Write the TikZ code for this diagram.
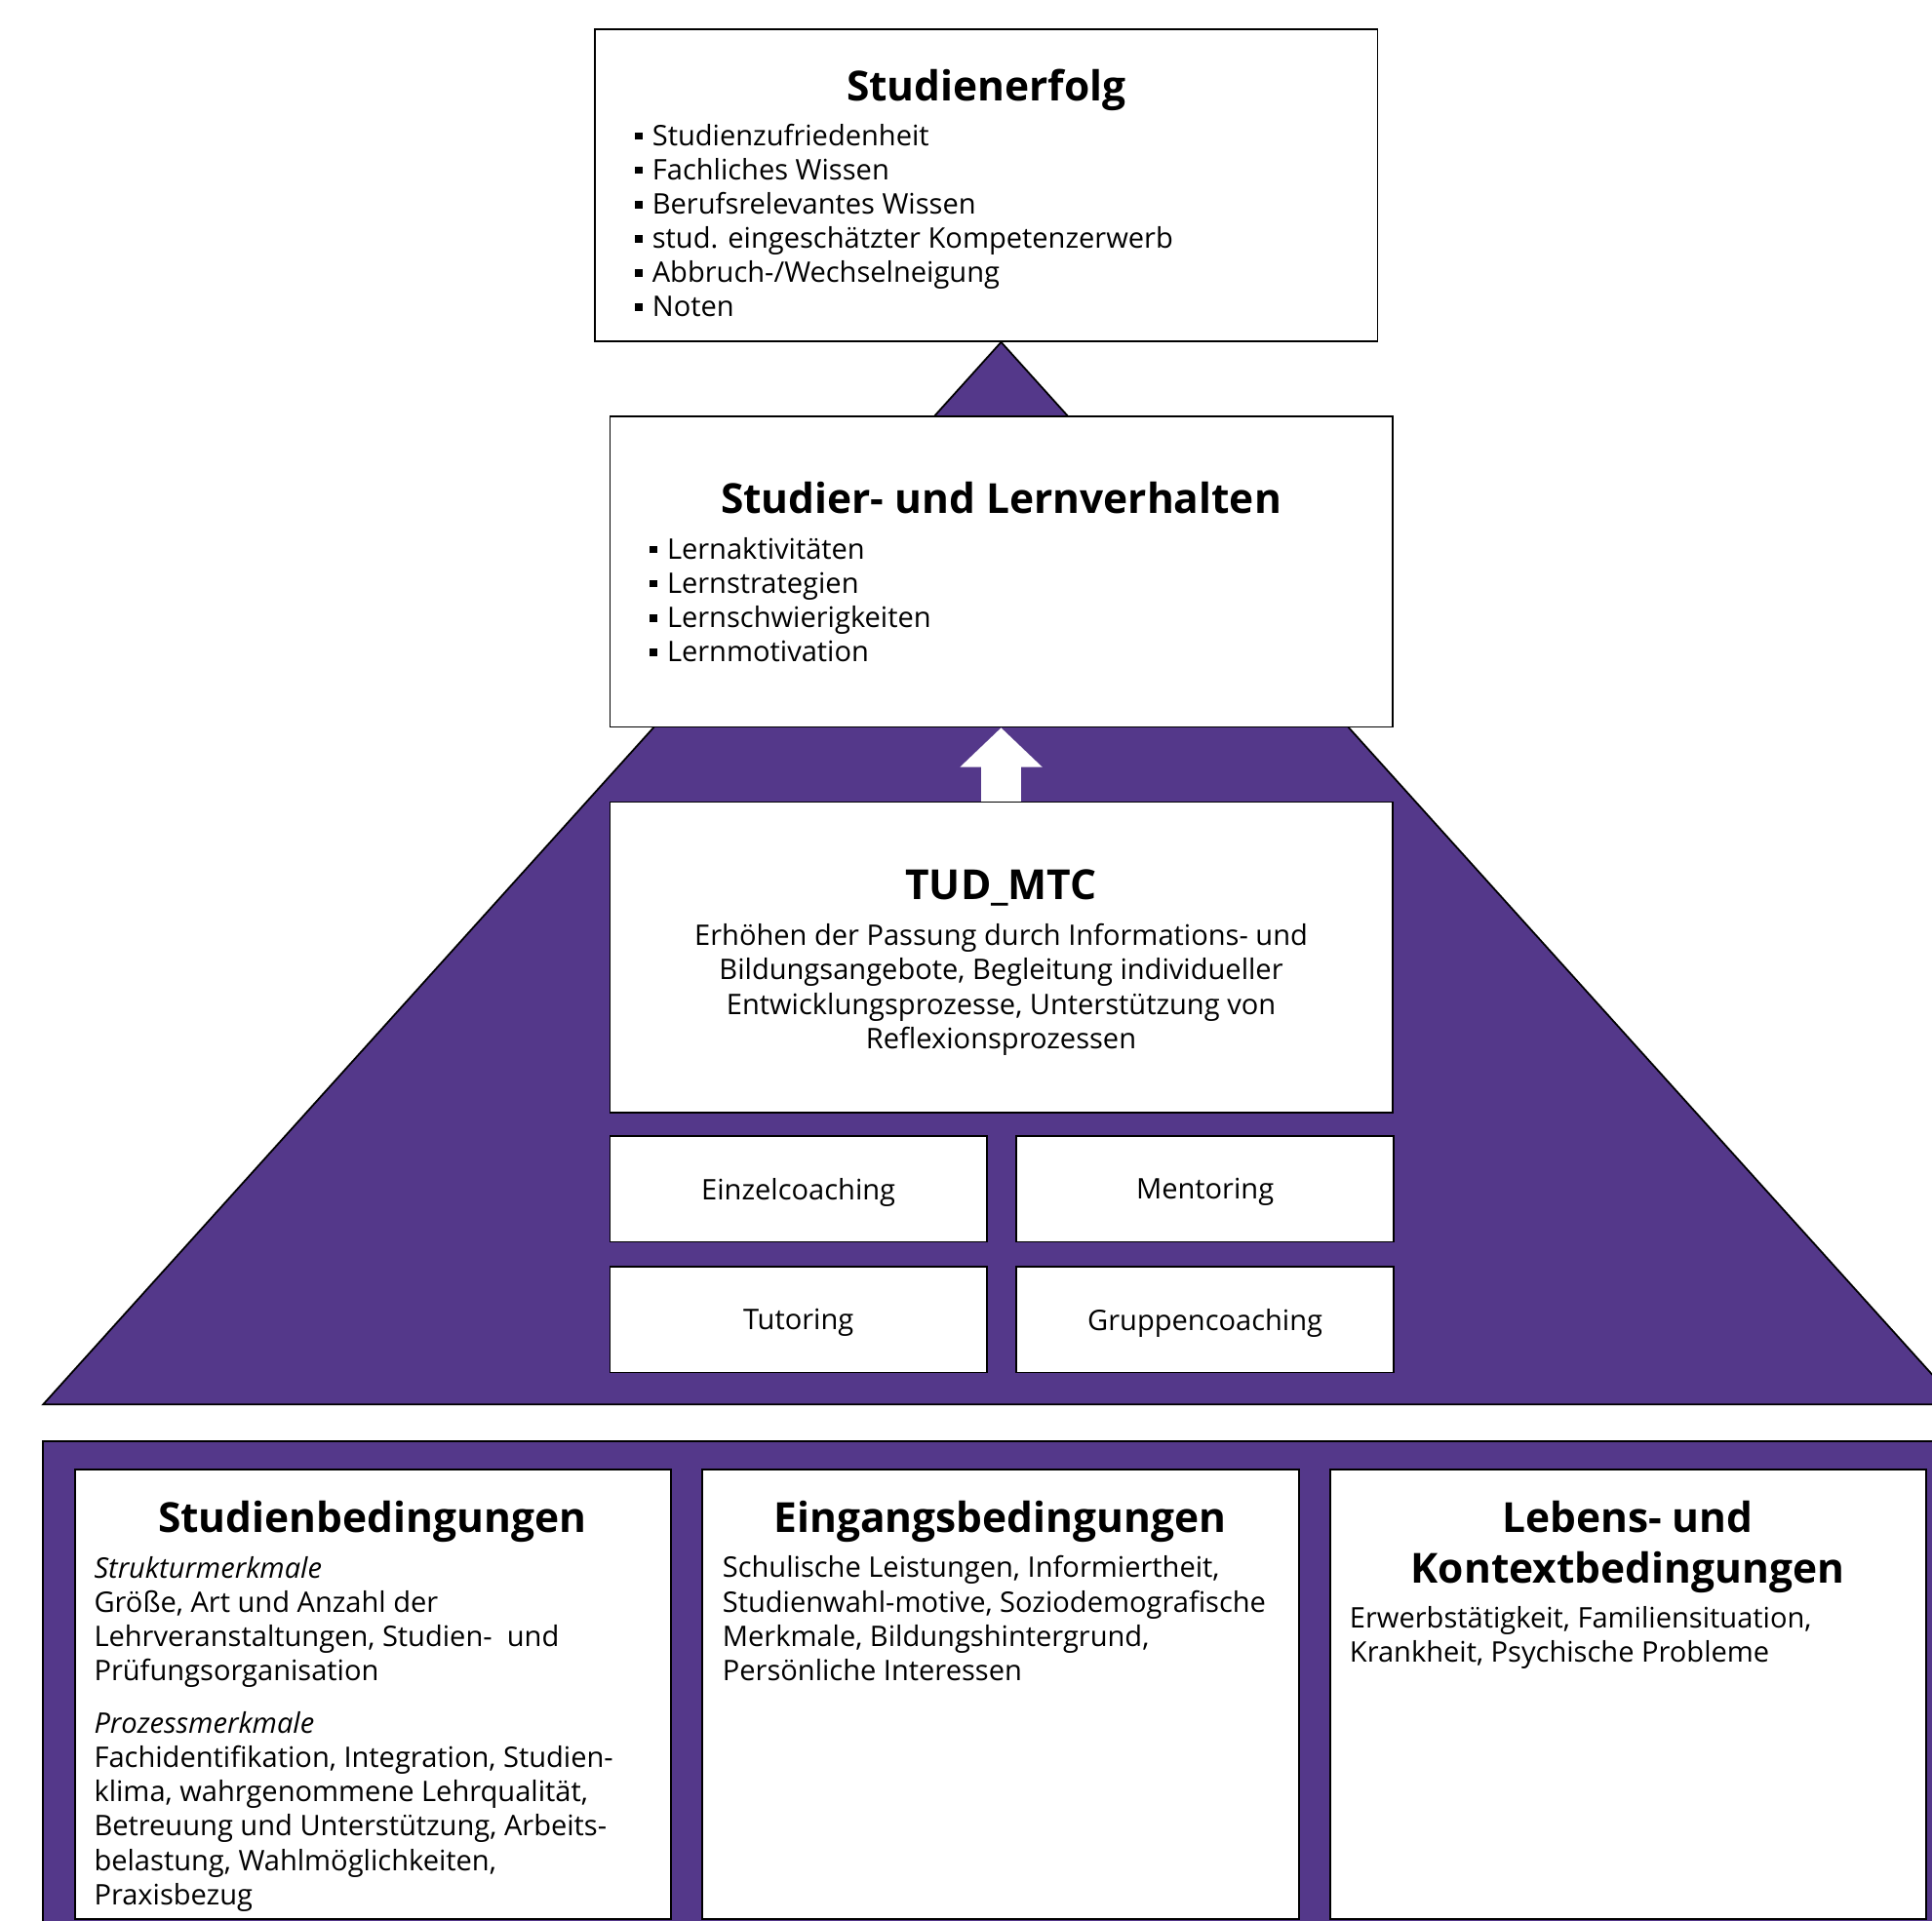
\documentclass[tikz,border=0pt]{standalone}
\usepackage{fontspec}
\setmainfont{Open Sans}
\usepackage{tikz}
\usetikzlibrary{arrows.meta, positioning, backgrounds}

\definecolor{tudpurple}{RGB}{84,56,138}
\newcommand{\sqitem}{\rule[2.3pt]{3pt}{3pt}\hspace{4pt}}

\begin{document}
\begin{tikzpicture}[
    x=0.5pt, y=-0.5pt,
    box/.style={rectangle, draw, line width=0.7pt, fill=white, inner sep=0pt},
    offer/.style={box, minimum width=153pt, minimum height=43pt, text depth=0pt, font=\fontsize{11.5}{13.9}\selectfont},
    panel/.style={box, anchor=north west, minimum width=242pt, minimum height=182.4pt},
    heading/.style={font=\fontsize{16.8}{20.5}\selectfont\bfseries, inner sep=0pt, anchor=base, align=center},
    body/.style={font=\fontsize{11.5}{13.9}\selectfont, inner sep=0pt, anchor=base west, align=left},
    bigarrow/.style={-{Triangle[length=16pt, width=32.5pt]}, line width=16.5pt, white}
]
\path[use as bounding box] (0,0) rectangle (1568,1559);

% Outcome
\node[box, minimum width=317.5pt, minimum height=126.5pt] (erfolg) at (800.5,150.5) {};
\node[heading] (erfolgtitle) at (800.5,82) {Studienerfolg};
\node[body] (erfolglist) at (515,257) {\sqitem Studienzufriedenheit\\
    \sqitem Fachliches Wissen\\
    \sqitem Berufsrelevantes Wissen\\
    \sqitem stud. eingeschätzter Kompetenzerwerb\\
    \sqitem Abbruch-/Wechselneigung\\
    \sqitem Noten};

% Behaviour
\node[box, minimum width=317.5pt, minimum height=126pt] (verhalten) at (812.5,464) {};
\node[heading] (verhaltentitle) at (812.5,417) {Studier- und Lernverhalten};
\node[body] (verhaltenlist) at (527,537) {\sqitem Lernaktivitäten\\
    \sqitem Lernstrategien\\
    \sqitem Lernschwierigkeiten\\
    \sqitem Lernmotivation};

% Programme
\node[box, minimum width=317.5pt, minimum height=126pt] (tud) at (812.5,777) {};
\node[heading] (tudtitle) at (812.5,730) {TUD\_MTC};
\node[body, anchor=base, align=center] (tudtext) at (812.5,851) {Erhöhen der Passung durch Informations- und\\
    Bildungsangebote, Begleitung individueller\\
    Entwicklungsprozesse, Unterstützung von\\
    Reflexionsprozessen};

% Offers
\node[offer, below right=8.8pt and 0pt of tud.south west] (einzel) {Einzelcoaching};
\node[offer, right=11.3pt of einzel] (mentoring) {Mentoring};
\node[offer, below=9.3pt of einzel] (tutoring) {Tutoring};
\node[offer, right=11.3pt of tutoring] (gruppe) {Gruppencoaching};

% Conditions
\node[panel] (studium) at (60,1192) {};
\node[panel, right=12pt of studium] (eingang) {};
\node[panel, right=12pt of eingang] (kontext) {};

\node[heading] (studiumtitle) at (302,1244) {Studienbedingungen};
\node[body] (studiumtext) at (76,1546) {\textit{Strukturmerkmale}\\
    Größe, Art und Anzahl der\\
    Lehrveranstaltungen, Studien-~ und\\
    Prüfungsorganisation\\[7.5pt]
    \textit{Prozessmerkmale}\\
    Fachidentifikation, Integration, Studien-\\
    klima, wahrgenommene Lehrqualität,\\
    Betreuung und Unterstützung, Arbeits-\\
    belastung, Wahlmöglichkeiten,\\
    Praxisbezug};

\node[heading] (eingangtitle) at (811.5,1244) {Eingangsbedingungen};
\node[body] (eingangtext) at (586,1364) {Schulische Leistungen, Informiertheit,\\
    Studienwahl-motive, Soziodemografische\\
    Merkmale, Bildungshintergrund,\\
    Persönliche Interessen};

\node[heading] (kontexttitle) at (1321,1285) {Lebens- und\\Kontextbedingungen};
\node[body] (kontexttext) at (1095,1349) {Erwerbstätigkeit, Familiensituation,\\
    Krankheit, Psychische Probleme};

% Background shapes
\begin{scope}[on background layer]
\filldraw[fill=tudpurple, line width=0.7pt] (verhalten.north |- erfolg.south) -- (35,1140) -- (1590,1140) -- cycle;
\filldraw[fill=tudpurple, line width=0.7pt] (35,1170) rectangle (1600,1600);
\draw[bigarrow] (tud.north) -- (verhalten.south);
\end{scope}

\end{tikzpicture}
\end{document}
